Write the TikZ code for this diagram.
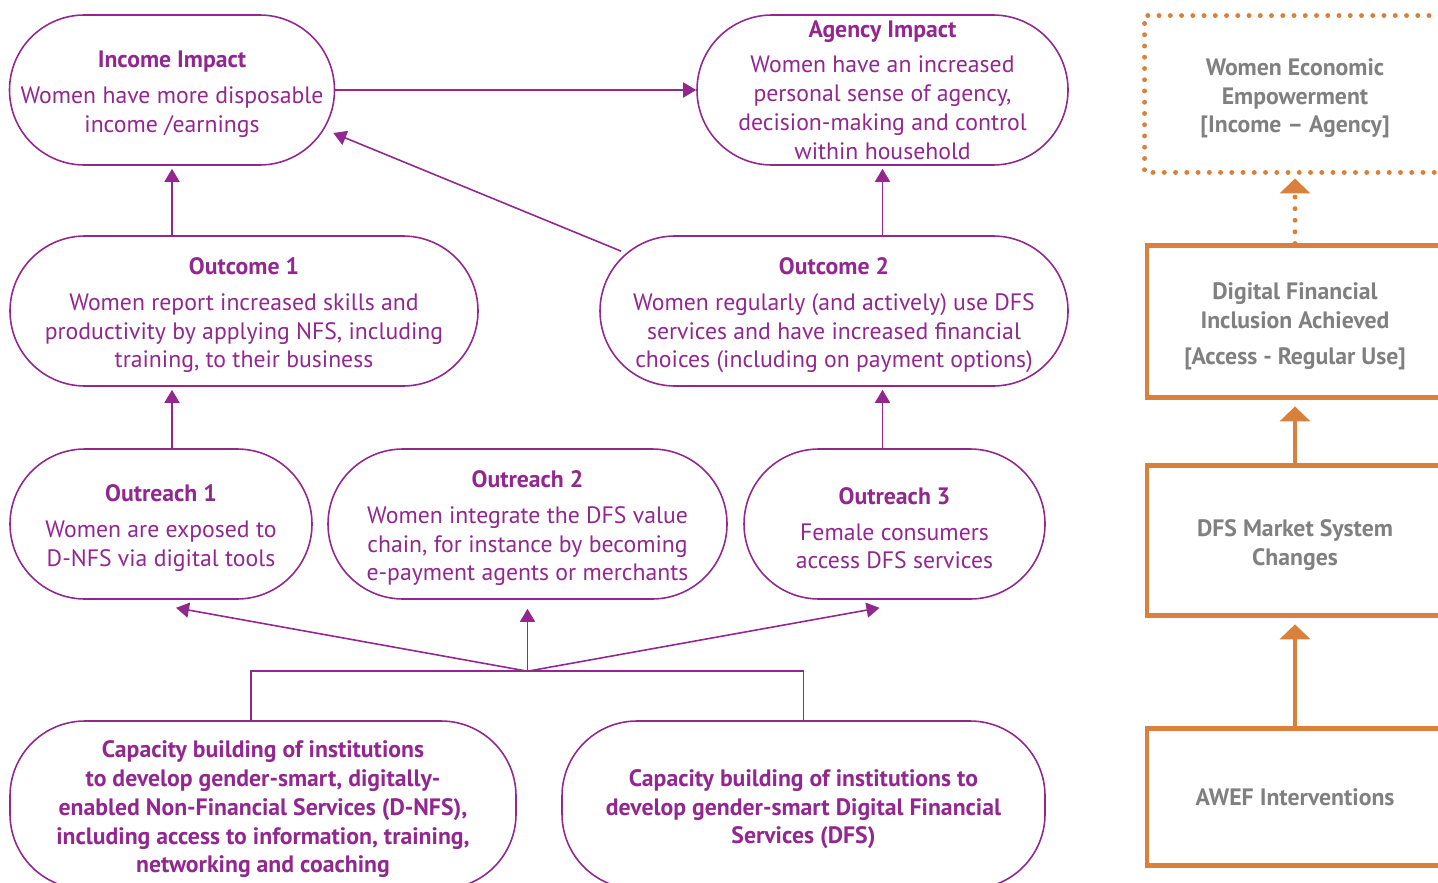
\documentclass[tikz,border=0pt]{standalone}
\usepackage{fontspec}
\setmainfont{PT Sans}
\usetikzlibrary{positioning}
\usetikzlibrary{backgrounds}
\usetikzlibrary{calc}
\usetikzlibrary{arrows.meta}
\definecolor{awefpurple}{RGB}{146,39,143}
\definecolor{aweforange}{RGB}{217,128,60}
\definecolor{awefgrey}{RGB}{128,128,128}
\newcommand{\topstrut}{\rule{0pt}{14.5pt}}
\newcommand{\boxtitle}[1]{\topstrut\textbf{#1}\\[4pt]}

\begin{document}
\begin{tikzpicture}[
		font=\fontsize{13.5}{16.4}\selectfont,
		pill/.style={fill=white, draw=awefpurple, line width=0.9pt, rectangle, rounded corners=1.5cm, minimum height=3cm, text=awefpurple, align=center, inner sep=0pt},
		capbox/.style={pill, minimum height=3.36cm, font=\fontsize{13.5}{16.4}\selectfont\bfseries},
		sysbox/.style={fill=white, draw=aweforange, line width=2.8pt, rectangle, minimum width=5.92cm, text=awefgrey, align=center, inner sep=0pt, font=\fontsize{13.5}{16.4}\selectfont\bfseries},
		link/.style={draw=awefpurple, line width=0.9pt, -{Triangle[length=0.26cm,width=0.3cm]}},
		syslink/.style={draw=aweforange, line width=2.2pt, -{Triangle[length=0.3cm,width=0.6cm]}, shorten >=0.12cm},
	]
	\useasboundingbox (0,0) rectangle (28.76,-17.64);

	% impact row
	\node[pill, minimum width=6.5cm] at (3.44,-1.8) (inc)
	{\boxtitle{Income Impact}
		Women have more disposable\\income /earnings};
	\node[pill, minimum width=7.42cm] at (17.65,-1.8) (agy)
	{\textbf{Agency Impact}\\[4pt]
		Women have an increased\\personal sense of agency,\\decision-making and control\\within household};

	% outcome row
	\node[pill, minimum width=9.36cm] at (4.88,-6.22) (oc1)
	{\boxtitle{Outcome 1}
		Women report increased skills and\\productivity by applying NFS, including\\training, to their business};
	\node[pill, minimum width=9.36cm] at (16.68,-6.22) (oc2)
	{\boxtitle{Outcome 2}
		Women regularly (and actively) use DFS\\services and have increased financial\\choices (including on payment options)};

	% outreach row
	\node[pill, minimum width=6.04cm] at (3.22,-10.48) (or1)
	{\boxtitle{Outreach 1}
		Women are exposed to\\D-NFS via digital tools};
	\node[pill, minimum width=7.98cm] at (10.55,-10.48) (or2)
	{\boxtitle{Outreach 2}
		Women integrate the DFS value\\chain, for instance by becoming\\e-payment agents or merchants};
	\node[pill, minimum width=6.02cm] at (17.89,-10.48) (or3)
	{\boxtitle{Outreach 3}
		Female consumers\\access DFS services};

	% capacity building
	\node[capbox, minimum width=10.12cm] at (5.26,-16.1) (cb1)
	{\topstrut Capacity building of institutions\\to develop gender-smart, digitally-\\enabled Non-Financial Services (D-NFS),\\including access to information, training,\\networking and coaching};
	\node[capbox, minimum width=9.66cm] at (16.07,-16.1) (cb2)
	{\topstrut Capacity building of institutions to\\develop gender-smart Digital Financial\\Services (DFS)};

	% system column
	\node[sysbox, draw=none, minimum height=3.04cm] at (25.9,-1.88) (wee)
	{\topstrut Women Economic\\Empowerment\\{}[Income -- Agency]};
	\node[sysbox, minimum height=3.04cm, below = 1.42cm of wee] (dfi)
	{\topstrut Digital Financial\\Inclusion Achieved\\[4pt][Access - Regular Use]};
	\node[sysbox, minimum height=3cm, below = 1.26cm of dfi] (dms)
	{\topstrut DFS Market System\\Changes};
	\node[sysbox, minimum height=2.74cm, below = 2.16cm of dms] (awef)
	{AWEF Interventions};

	\coordinate (hub) at ($(or2.south |- cb1.north)+(0,0.98)$);

	\begin{scope}[on background layer]
		\draw[link] (inc) to (agy);
		\draw[link] ($(oc2.north west)+(0.44,-0.32)$) to ($(inc.east)+(-0.04,-0.86)$);
		\draw[link, shorten >=0.06cm] (inc.south |- oc1.north) to (inc.south);
		\draw[link, shorten >=0.06cm] (agy.south |- oc2.north) to (agy.south);
		\draw[link, shorten >=0.06cm] (inc.south |- or1.north) to (inc.south |- oc1.south);
		\draw[link, shorten >=0.06cm] (agy.south |- or3.north) to (agy.south |- oc2.south);

		\draw[link] (hub) to ($(or1.south)+(0.3,-0.16)$);
		\draw[link] (hub) to ($(or2.south)+(0,-0.18)$);
		\draw[link] (hub) to ($(or3.south)+(-0.3,-0.16)$);
		\draw[awefpurple, line width=0.9pt] ($(cb1.north)+(-0.24,0)$) |- (hub) -| (cb2.north);

		\draw[aweforange, line width=2.8pt, line cap=round, dash pattern=on 0pt off 6.4pt] (wee.south east) -- (wee.south west) -- (wee.north west) -- (wee.north east);
		\draw[syslink, line width=2.8pt, line cap=round, dash pattern=on 0pt off 6.6pt] (dfi.north) to (wee.south);
		\draw[syslink] (dms.north) to (dfi.south);
		\draw[syslink] (awef.north) to (dms.south);
	\end{scope}
\end{tikzpicture}
\end{document}
